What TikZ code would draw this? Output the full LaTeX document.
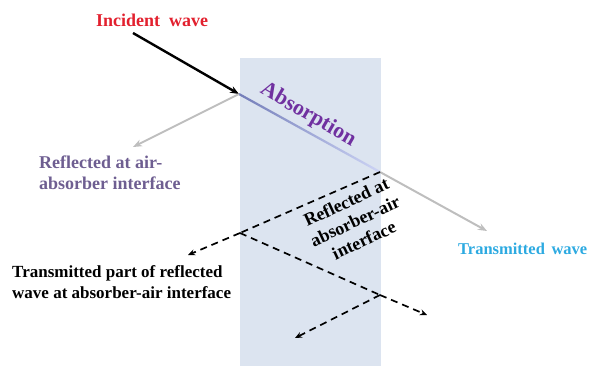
\documentclass[tikz,border=0pt]{standalone}
\usepackage{fontspec}
\setmainfont{Liberation Serif}
\usetikzlibrary{arrows.meta}
\definecolor{slab}{RGB}{220,228,240}
\definecolor{incred}{RGB}{226,32,46}
\definecolor{reflpurp}{RGB}{110,94,145}
\definecolor{absorp}{RGB}{112,48,160}
\definecolor{transcyan}{RGB}{45,170,225}
\definecolor{raygray}{RGB}{190,190,190}
\definecolor{raystart}{RGB}{115,125,185}
\definecolor{rayend}{RGB}{205,212,245}
\tikzset{
  lbl/.style={inner sep=0pt, font=\bfseries\fontsize{18}{21}\selectfont},
  smalllbl/.style={inner sep=0pt, font=\bfseries\fontsize{17}{21}\selectfont},
  incarrow/.style={line width=2.4pt, -{Stealth[length=9pt,width=7pt]}},
  grayarrow/.style={draw=raygray, line width=2pt, -{Stealth[length=9pt,width=7pt]}},
  dasharrow/.style={line width=1.7pt, dash pattern=on 7pt off 5pt, -{Stealth[length=7pt,width=6pt]}},
  dashline/.style={line width=1.7pt, dash pattern=on 7pt off 5pt}
}
\begin{document}
\begin{tikzpicture}[x=1pt,y=-1pt]
\useasboundingbox (0,0) rectangle (590,365);
% absorber slab
\fill[slab] (240,58) rectangle (381,366);
% key points
\coordinate (P0) at (133,33);
\coordinate (A) at (239,94);
\coordinate (R1) at (133,147);
\coordinate (B) at (380,172);
\coordinate (T) at (487,231);
\coordinate (C) at (240,233);
\coordinate (D1) at (188,255);
\coordinate (E) at (380,295);
\coordinate (F) at (427,315);
\coordinate (G) at (295,338);
% absorption ray (shaded)
\begin{scope}[shift={(A)}, rotate=-28.95]
  \shade[left color=raystart, right color=rayend] (0,-1.1) rectangle (161,1.1);
\end{scope}
% rays
\draw[incarrow] (P0) -- (A);
\draw[grayarrow] (A) -- (R1);
\draw[grayarrow] (B) -- (T);
\draw[dashline] (B) -- (C);
\draw[dasharrow] (C) -- (D1);
\draw[dashline] (C) -- (E);
\draw[dasharrow] (E) -- (F);
\draw[dasharrow] (E) -- (G);
% labels
\node[lbl, text=incred] (inc) at (152,20) {Incident\ \ wave};
\node[lbl, text=reflpurp, anchor=west, align=left] (refl) at (39,173) {Reflected at air-\\absorber interface};
\node[lbl, text=absorp, rotate=-30, font=\bfseries\fontsize{22}{26}\selectfont] (abs) at (308,115) {Absorption};
\node[lbl, align=center, rotate=25] (refl2) at (355,221) {Reflected at\\absorber-air\\interface};
\node[smalllbl, text=transcyan, anchor=west, font=\bfseries\fontsize{16.5}{21}\selectfont] (trans) at (458,249) {Transmitted\hspace{0.4em}wave};
\node[smalllbl, anchor=west, align=left] (tpart) at (12,282) {Transmitted part of reflected\\wave at absorber-air interface};
\end{tikzpicture}
\end{document}
